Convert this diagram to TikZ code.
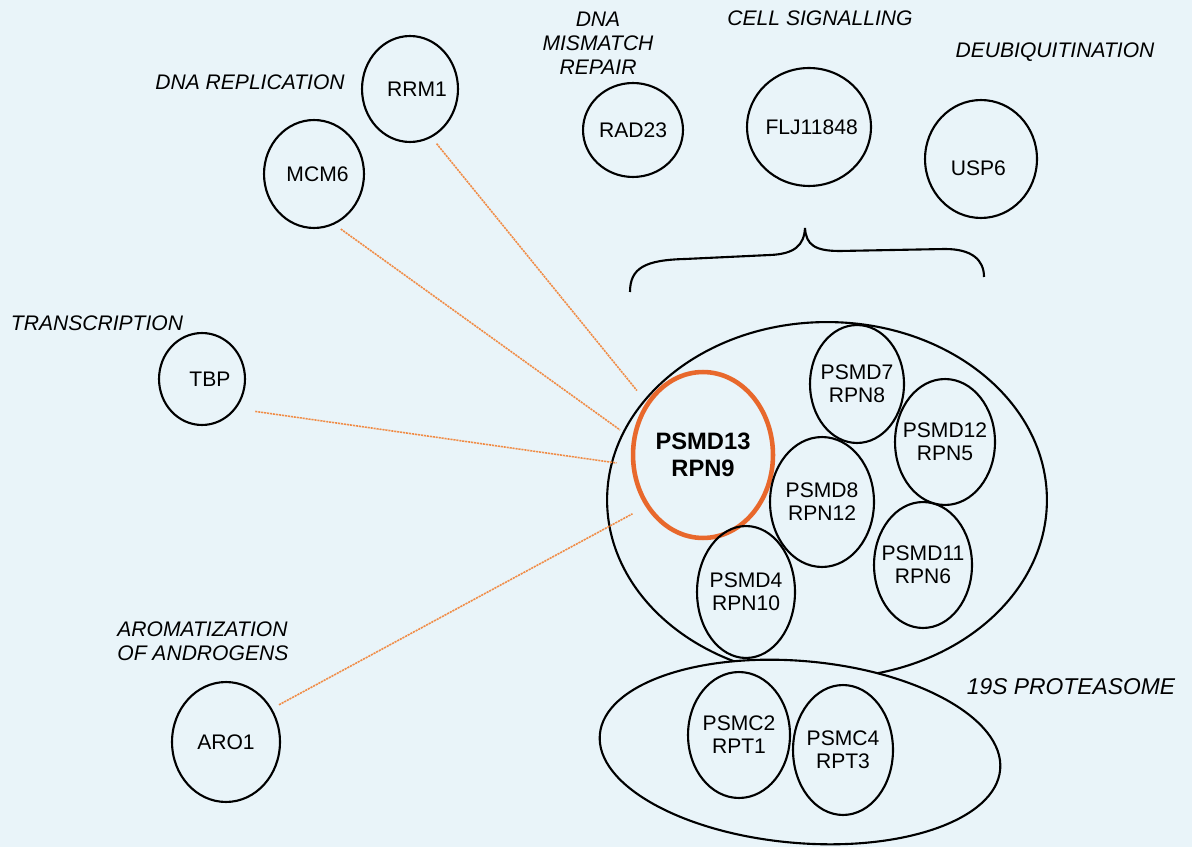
\documentclass[tikz,border=0pt]{standalone}
\usepackage{fontspec}
\setmainfont{Liberation Sans}
\usetikzlibrary{shapes.geometric}
\definecolor{paper}{RGB}{233,244,249}
\definecolor{hub}{RGB}{232,104,44}
\definecolor{tie}{RGB}{240,140,70}

\begin{document}
\begin{tikzpicture}[x=0.02cm, y=-0.02cm,
  prot/.style={ellipse, draw, line width=1.2pt, inner sep=0pt},
  radii/.style 2 args={minimum width=#1*0.04cm, minimum height=#2*0.04cm},
  role/.style={font=\fontsize{12}{13.6}\selectfont\itshape, align=center, inner sep=0pt},
  link/.style={draw=tie, line width=0.9pt, dash pattern=on 1.2pt off 0.5pt, shorten <=4.5pt, shorten >=8.5pt},
  every label/.style={font=\fontsize{12}{13}\selectfont, align=center, inner sep=0pt}]
\path[use as bounding box, fill=paper] (0, 0) rectangle (1192, 847);

\node (fn-rep) at (250, 82) [role] {DNA REPLICATION};
\node (fn-mmr) at (598, 43) [role] {DNA\\MISMATCH\\REPAIR};
\node (fn-sig) at (820, 18) [role] {CELL SIGNALLING};
\node (fn-dub) at (1055, 52) [role] {DEUBIQUITINATION};
\node (fn-tx) at (97, 323) [role] {TRANSCRIPTION};
\node (fn-aro) at (117, 641) [role, anchor=west, align=left] {AROMATIZATION\\OF ANDROGENS};
\node (fn-19s) at (1071, 687) [role, font=\fontsize{13}{15}\selectfont\itshape] {19S PROTEASOME};

\node (rrm1) at (410, 89) [prot, radii={48}{53}, label={[xshift=4pt]center:RRM1}] {};
\node (mcm6) at (314, 174) [prot, radii={50}{54}, label={[xshift=2pt]center:MCM6}] {};
\node (rad23) at (633, 130) [prot, radii={50}{47}, label=center:RAD23] {};
\node (flj) at (809, 127) [prot, radii={62}{59}, label={[xshift=1.5pt]center:FLJ11848}] {};
\node (usp6) at (981, 159) [prot, radii={56}{59}, label={[xshift=-1.5pt, yshift=-5pt]center:USP6}] {};
\node (tbp) at (202, 379) [prot, radii={43}{46}, label={[xshift=4.5pt]center:TBP}] {};
\node (aro1) at (226, 742) [prot, radii={54}{60}, label=center:ARO1] {};

\draw[line width=1.2pt] (630, 292) .. controls (630, 268) and (645, 260) .. (685, 259) -- (770, 255) .. controls (795, 254) and (804, 245) .. (805, 228) .. controls (806, 245) and (815, 251) .. (840, 251) -- (945, 249) .. controls (972, 249) and (984, 260) .. (984, 277);

\node (lid) at (827, 500) [prot, radii={220}{178}] {};
\node (base) at (800, 752) [prot, radii={201}{91}, rotate=-5, fill=paper] {};

\node (psmd13) at (703, 455) [prot, radii={70}{83}, draw=hub, line width=2.6pt, label={[font=\fontsize{13.5}{15.3}\selectfont\bfseries]center:PSMD13\\RPN9}] {};
\node (psmd7) at (857, 384) [prot, radii={47}{59}, label=center:PSMD7\\RPN8] {};
\node (psmd12) at (945, 442) [prot, radii={50}{63}, label=center:PSMD12\\RPN5] {};
\node (psmd8) at (822, 502) [prot, radii={52}{65}, label=center:PSMD8\\RPN12] {};
\node (psmd11) at (923, 565) [prot, radii={49}{63}, label=center:PSMD11\\RPN6] {};
\node (psmd4) at (746, 592) [prot, radii={49}{66}, label=center:PSMD4\\RPN10] {};
\node (psmc2) at (739, 735) [prot, radii={51}{63}, label=center:PSMC2\\RPT1] {};
\node (psmc4) at (843, 750) [prot, radii={50}{65}, label=center:PSMC4\\RPT3] {};

\draw[link] (rrm1.294) -- (psmd13.137);
\draw[link] (mcm6.292) -- (psmd13.167);
\draw[link, shorten <=11pt] (tbp.319) -- (psmd13.188);
\draw[link] (aro1.36) -- (psmd13.222);
\end{tikzpicture}
\end{document}
